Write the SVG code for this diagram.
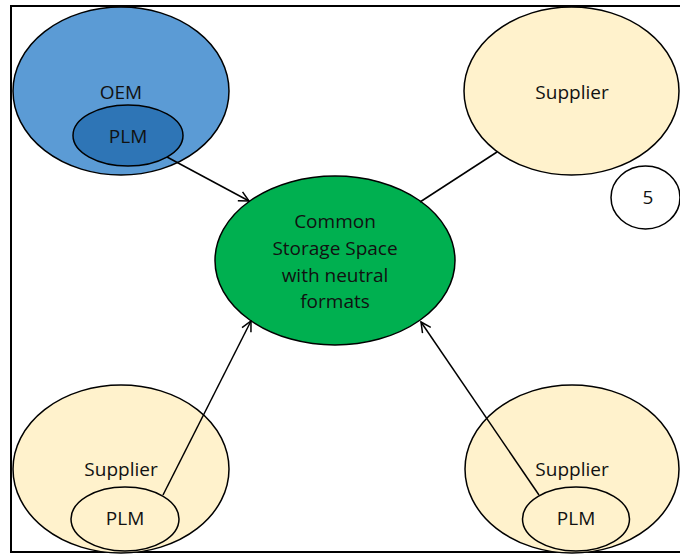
<svg xmlns="http://www.w3.org/2000/svg" width="680" height="555" viewBox="0 0 680 555">
  <defs>
    <marker id="open-arrow" viewBox="0 0 12 12" refX="11" refY="6" markerWidth="12" markerHeight="12" markerUnits="userSpaceOnUse" orient="auto">
      <path d="M1,1 L11,6 L1,11" fill="none" stroke="#000" stroke-width="1.5"/>
    </marker>
  </defs>
  <style>
    .frame { fill: #fff; stroke: #000; stroke-width: 2; }
    .node { stroke: #000; stroke-width: 1.5; }
    .oem { fill: #5B9BD5; }
    .oem-plm { fill: #2E75B6; }
    .supplier { fill: #FFF2CC; }
    .hub { fill: #00B050; }
    .plain { fill: #fff; }
    .label { font-family: "Open Sans", "Liberation Sans", sans-serif; font-size: 19px; fill: #111; text-anchor: middle; }
    .link { stroke: #000; stroke-width: 1.5; fill: none; }
  </style>

  <rect class="frame" x="11" y="6" width="700" height="546"/>

  <g id="oem">
    <ellipse class="node oem" cx="121" cy="91" rx="108" ry="84"/>
    <text class="label" x="121" y="99">OEM</text>
  </g>
  <g id="oem-plm">
    <ellipse class="node oem-plm" cx="128" cy="135.5" rx="55" ry="30.5"/>
    <text class="label" x="128" y="143">PLM</text>
  </g>

  <g id="supplier-top">
    <ellipse class="node supplier" cx="571.5" cy="91" rx="107.5" ry="84"/>
    <text class="label" x="572" y="99">Supplier</text>
  </g>

  <g id="badge">
    <ellipse class="node plain" cx="645.5" cy="197.5" rx="34.5" ry="31.5"/>
    <text class="label" x="648" y="204">5</text>
  </g>

  <g id="storage">
    <ellipse class="node hub" cx="335" cy="260.5" rx="120" ry="84.5"/>
    <text class="label" x="335" y="228">Common</text>
    <text class="label" x="335" y="255">Storage Space</text>
    <text class="label" x="335" y="282">with neutral</text>
    <text class="label" x="335" y="308">formats</text>
  </g>

  <g id="supplier-left">
    <ellipse class="node supplier" cx="121" cy="469" rx="108" ry="84"/>
    <text class="label" x="121" y="476">Supplier</text>
  </g>
  <g id="supplier-left-plm">
    <ellipse class="node supplier" cx="125" cy="519" rx="54" ry="32"/>
    <text class="label" x="125" y="525">PLM</text>
  </g>

  <g id="supplier-right">
    <ellipse class="node supplier" cx="572" cy="469" rx="107" ry="84"/>
    <text class="label" x="572" y="476">Supplier</text>
  </g>
  <g id="supplier-right-plm">
    <ellipse class="node supplier" cx="576" cy="519" rx="53.5" ry="32"/>
    <text class="label" x="576" y="525">PLM</text>
  </g>

  <g id="connectors">
    <line class="link" x1="167" y1="157" x2="249" y2="201" marker-end="url(#open-arrow)"/>
    <line class="link" x1="497" y1="152" x2="420" y2="202"/>
    <line class="link" x1="163" y1="495" x2="251" y2="321" marker-end="url(#open-arrow)"/>
    <line class="link" x1="539" y1="495" x2="421" y2="322" marker-end="url(#open-arrow)"/>
  </g>
</svg>
